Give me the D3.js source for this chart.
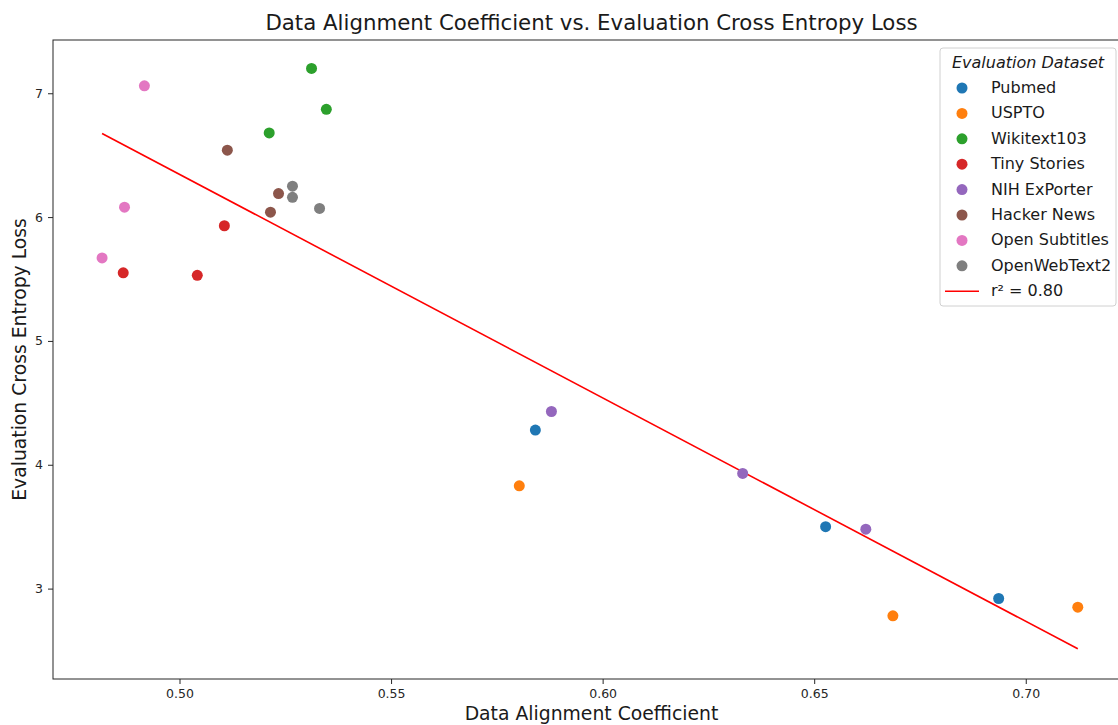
<!DOCTYPE html>
<html>
<head>
<meta charset="utf-8">
<script src="https://cdn.jsdelivr.net/npm/d3@7"></script>
<style>
  body { margin: 0; background: white; }
  svg { font-family: "DejaVu Sans", sans-serif; }
</style>
</head>
<body>
<script>
var datasets = ["Pubmed", "USPTO", "Wikitext103", "Tiny Stories", "NIH ExPorter", "Hacker News", "Open Subtitles", "OpenWebText2"];
var colors = ["#1f77b4", "#ff7f0e", "#2ca02c", "#d62728", "#9467bd", "#8c564b", "#e377c2", "#7f7f7f"];

// alignment coefficient per dataset
var alignment = [
  [0.5841, 0.6527, 0.6936],
  [0.5803, 0.6686, 0.7123],
  [0.5312, 0.5347, 0.5212],
  [0.4867, 0.5042, 0.5106],
  [0.5879, 0.6331, 0.6622],
  [0.5113, 0.5234, 0.5215],
  [0.4917, 0.4870, 0.4817],
  [0.5267, 0.5267, 0.5331]
];
// evaluation cross entropy loss per dataset
var loss = [
  [4.28, 3.50, 2.92],
  [3.83, 2.78, 2.85],
  [7.20, 6.87, 6.68],
  [5.55, 5.53, 5.93],
  [4.43, 3.93, 3.48],
  [6.54, 6.19, 6.04],
  [7.06, 6.08, 5.67],
  [6.25, 6.16, 6.07]
];
var xTicks = [0.50, 0.55, 0.60, 0.65, 0.70];
var yTicks = [3, 4, 5, 6, 7];
var rLabel = "r\u00b2 = 0.80";

var width = 1118, height = 725;
var margin = {left: 53, top: 40, right: 1130, bottom: 679};

var svg = d3.select("body").append("svg")
  .attr("width", width)
  .attr("height", height);

var x = d3.scaleLinear().domain([0.4701, 0.7218 + (1130 - 1118) / 4228]).range([margin.left, margin.right]);
var y = d3.scaleLinear().domain([2.27, 7.43]).range([margin.bottom, margin.top]);

var points = [];
datasets.forEach(function(name, i) {
  alignment[i].forEach(function(a, j) {
    points.push({set: i, x: a, y: loss[i][j]});
  });
});

// least squares fit
var mx = d3.mean(points, d => d.x), my = d3.mean(points, d => d.y);
var sxy = d3.sum(points, d => (d.x - mx) * (d.y - my));
var sxx = d3.sum(points, d => (d.x - mx) * (d.x - mx));
var slope = sxy / sxx, icpt = my - slope * mx;
var xExt = d3.extent(points, d => d.x);

// axes
var gx = svg.append("g")
  .attr("transform", "translate(0," + margin.bottom + ")")
  .call(d3.axisBottom(x).tickValues(xTicks).tickFormat(d3.format(".2f")).tickSize(5).tickPadding(5));
var gy = svg.append("g")
  .attr("transform", "translate(" + margin.left + ",0)")
  .call(d3.axisLeft(y).tickValues(yTicks).tickFormat(d3.format("d")).tickSize(5).tickPadding(5));
[gx, gy].forEach(function(g) {
  g.select(".domain").remove();
  g.selectAll("text").style("font-size", "12.5px").style("fill", "#262626").style("font-family", "DejaVu Sans");
  g.selectAll("line").style("stroke", "#262626");
});

svg.append("rect")
  .attr("x", margin.left)
  .attr("y", margin.top)
  .attr("width", margin.right - margin.left)
  .attr("height", margin.bottom - margin.top)
  .style("fill", "none")
  .style("stroke", "#262626")
  .style("stroke-width", 1);

svg.append("line")
  .attr("x1", x(xExt[0]))
  .attr("y1", y(slope * xExt[0] + icpt))
  .attr("x2", x(xExt[1]))
  .attr("y2", y(slope * xExt[1] + icpt))
  .style("stroke", "red")
  .style("stroke-width", 1.6);

svg.append("g").selectAll("circle")
  .data(points)
  .enter().append("circle")
  .attr("cx", d => x(d.x))
  .attr("cy", d => y(d.y))
  .attr("r", 5.5)
  .style("fill", d => colors[d.set]);

// titles
svg.append("text")
  .attr("x", (margin.left + margin.right) / 2)
  .attr("y", 30)
  .attr("text-anchor", "middle")
  .style("font-size", "21.3px")
  .style("fill", "#1a1a1a")
  .text("Data Alignment Coefficient vs. Evaluation Cross Entropy Loss");

svg.append("text")
  .attr("x", (margin.left + margin.right) / 2)
  .attr("y", 720)
  .attr("text-anchor", "middle")
  .style("font-size", "18.8px")
  .style("fill", "#1a1a1a")
  .text("Data Alignment Coefficient");

svg.append("text")
  .attr("transform", "translate(26," + (margin.top + margin.bottom) / 2 + ") rotate(-90)")
  .attr("text-anchor", "middle")
  .style("font-size", "18.8px")
  .style("fill", "#1a1a1a")
  .text("Evaluation Cross Entropy Loss");

// legend
var lg = svg.append("g").attr("transform", "translate(940,48)");
lg.append("rect")
  .attr("width", 176)
  .attr("height", 258)
  .attr("rx", 3)
  .style("fill", "white")
  .style("fill-opacity", 0.8)
  .style("stroke", "#d0d0d0");
lg.append("text")
  .attr("x", 88)
  .attr("y", 20)
  .attr("text-anchor", "middle")
  .style("font-size", "16px")
  .style("font-style", "italic")
  .style("fill", "#1a1a1a")
  .text("Evaluation Dataset");

var rowH = 25.4;
var item = lg.selectAll("g.item")
  .data(datasets)
  .enter().append("g")
  .attr("class", "item")
  .attr("transform", (d, i) => "translate(0," + (39 + i * rowH) + ")");
item.append("circle")
  .attr("cx", 22)
  .attr("cy", 1)
  .attr("r", 5.5)
  .style("fill", (d, i) => colors[i]);
item.append("text")
  .attr("x", 51)
  .attr("y", 6)
  .style("font-size", "16px")
  .style("fill", "#1a1a1a")
  .text(d => d);

var lr = lg.append("g").attr("transform", "translate(0," + (39 + 8 * rowH) + ")");
lr.append("line")
  .attr("x1", 5).attr("x2", 39)
  .attr("y1", 1).attr("y2", 1)
  .style("stroke", "red")
  .style("stroke-width", 1.6);
lr.append("text")
  .attr("x", 51)
  .attr("y", 6)
  .style("font-size", "16px")
  .style("fill", "#1a1a1a")
  .text(rLabel);
</script>
</body>
</html>
